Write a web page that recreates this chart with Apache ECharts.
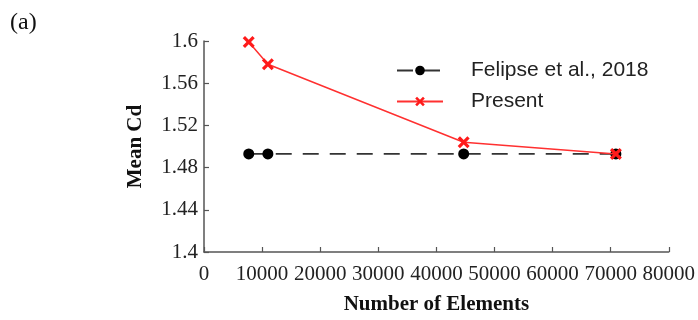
<!DOCTYPE html>
<html>
<head>
<meta charset="utf-8">
<script src="https://cdn.jsdelivr.net/npm/echarts@6/dist/echarts.min.js"></script>
<style>html,body{margin:0;padding:0;background:#fff}#c{width:698px;height:320px}</style>
</head>
<body>
<div id="c"></div>
<script>
const elements = [7700, 11000, 44700, 70900];
const felipse = [1.493, 1.493, 1.493, 1.493];
const present = [1.599, 1.578, 1.504, 1.493];
const xTicks = [0, 10000, 20000, 30000, 40000, 50000, 60000, 70000, 80000];
const yTicks = [1.4, 1.44, 1.48, 1.52, 1.56, 1.6];
const seriesNames = ['Felipse et al., 2018', 'Present'];

const crossPath = 'path://M0,1.9 L1.9,0 L5,3.1 L8.1,0 L10,1.9 L6.9,5 L10,8.1 L8.1,10 L5,6.9 L1.9,10 L0,8.1 L3.1,5 Z';
const serif = '"Liberation Serif", "Times New Roman", serif';
const sans = '"Liberation Sans", Arial, sans-serif';
const axisColor = '#555';

const chart = echarts.init(document.getElementById('c'), null, {renderer: 'canvas'});
chart.setOption({
  animation: false,
  backgroundColor: '#fff',
  title: {
    text: '(a)', left: 5, top: 6,
    textStyle: {fontFamily: serif, fontSize: 24, fontWeight: 'normal', color: '#111'}
  },
  grid: {left: 204, right: 28.5, top: 41, bottom: 63, containLabel: false},
  legend: {
    left: 391, top: 55, orient: 'vertical', itemGap: 10,
    itemWidth: 46, itemHeight: 12,
    textStyle: {fontFamily: sans, fontSize: 21, color: '#222', padding: [0, 0, 0, 23]},
    data: seriesNames
  },
  xAxis: {
    type: 'value', min: xTicks[0], max: xTicks[xTicks.length - 1], interval: 10000,
    name: 'Number of Elements', nameLocation: 'middle', nameGap: 42,
    nameTextStyle: {fontFamily: serif, fontSize: 21, fontWeight: 'bold', color: '#111'},
    axisLine: {show: true, lineStyle: {color: axisColor, width: 1.5}},
    axisTick: {show: true, inside: true, length: 5, lineStyle: {color: axisColor, width: 1.2}},
    axisLabel: {fontFamily: serif, fontSize: 21, color: '#222', margin: 12,
      formatter: v => String(v)},
    splitLine: {show: false}
  },
  yAxis: {
    type: 'value', min: yTicks[0], max: yTicks[yTicks.length - 1], interval: 0.04,
    name: 'Mean Cd', nameLocation: 'middle', nameGap: 58, nameRotate: 90,
    nameTextStyle: {fontFamily: serif, fontSize: 21, fontWeight: 'bold', color: '#111'},
    axisLine: {show: true, lineStyle: {color: axisColor, width: 1.5}},
    axisTick: {show: true, inside: true, length: 5, lineStyle: {color: axisColor, width: 1.2}},
    axisLabel: {fontFamily: serif, fontSize: 21, color: '#222', margin: 6,
      formatter: v => String(Math.round(v * 100) / 100)},
    splitLine: {show: false}
  },
  series: [
    {
      name: seriesNames[0], type: 'line',
      data: elements.map((x, i) => [x, felipse[i]]),
      symbol: 'circle', symbolSize: 11,
      itemStyle: {color: '#000'},
      lineStyle: {color: '#333', width: 1.6, type: [16, 11]},
      z: 2
    },
    {
      name: seriesNames[1], type: 'line',
      data: elements.map((x, i) => [x, present[i]]),
      symbol: crossPath, symbolSize: 12,
      itemStyle: {color: '#ff1a1a'},
      lineStyle: {color: '#ff3030', width: 1.5},
      z: 3
    }
  ]
});
</script>
</body>
</html>
